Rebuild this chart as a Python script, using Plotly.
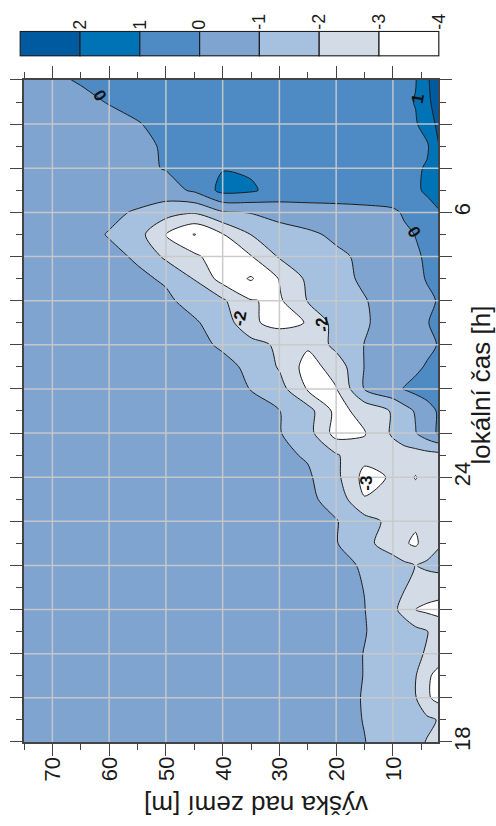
import plotly.graph_objects as go

# ---------------- data ----------------
HEIGHTS = [2, 4, 6, 8, 10, 15, 20, 25, 30, 35, 40, 45, 50, 55, 60, 65, 70, 75]
TIMES = [18.0, 18.5, 19.0, 19.5, 20.0, 20.5, 21.0, 21.5, 22.0, 22.5, 23.0, 23.5,
         24.0, 24.5, 25.0, 25.5, 26.0, 26.5, 27.0, 27.5, 28.0, 28.5, 29.0, 29.5,
         30.0, 30.5, 31.0, 31.5, 32.0, 32.5, 33.0]
# rows = times (18 h ... 9 h next day), columns = heights
Z = [
    [-2.4, -2.05, -1.75, -1.55, -1.4, -0.98, -0.7, -0.6, -0.55, -0.55, -0.55, -0.55, -0.55, -0.55, -0.55, -0.55, -0.55, -0.55],
    [-2.05, -1.8, -1.6, -1.5, -1.4, -1.03, -0.7, -0.6, -0.55, -0.55, -0.55, -0.55, -0.55, -0.55, -0.55, -0.55, -0.55, -0.55],
    [-3.3, -2.85, -1.95, -1.7, -1.5, -1.05, -0.7, -0.6, -0.55, -0.55, -0.55, -0.55, -0.55, -0.55, -0.55, -0.55, -0.55, -0.55],
    [-3.25, -2.85, -1.95, -1.7, -1.5, -1.02, -0.7, -0.6, -0.55, -0.55, -0.55, -0.55, -0.55, -0.55, -0.55, -0.55, -0.55, -0.55],
    [-2.6, -2.1, -1.8, -1.6, -1.45, -1.02, -0.7, -0.6, -0.55, -0.55, -0.55, -0.55, -0.55, -0.55, -0.55, -0.55, -0.55, -0.55],
    [-2.35, -1.95, -1.7, -1.5, -1.35, -0.97, -0.7, -0.6, -0.55, -0.55, -0.55, -0.55, -0.55, -0.55, -0.55, -0.55, -0.55, -0.55],
    [-3.3, -3.2, -3.05, -2.3, -1.8, -0.98, -0.7, -0.6, -0.55, -0.55, -0.55, -0.55, -0.55, -0.55, -0.55, -0.55, -0.55, -0.55],
    [-2.6, -2.5, -2.3, -1.95, -1.6, -1.02, -0.7, -0.6, -0.55, -0.55, -0.55, -0.55, -0.55, -0.55, -0.55, -0.55, -0.55, -0.55],
    [-1.7, -1.85, -2.02, -1.8, -1.5, -1.1, -0.75, -0.65, -0.6, -0.55, -0.55, -0.55, -0.55, -0.55, -0.55, -0.55, -0.55, -0.55],
    [-2.1, -2.5, -3.15, -2.9, -2.55, -1.7, -0.95, -0.7, -0.6, -0.55, -0.55, -0.55, -0.55, -0.55, -0.55, -0.55, -0.55, -0.55],
    [-2.6, -2.7, -2.85, -2.75, -2.3, -1.6, -0.95, -0.7, -0.6, -0.55, -0.55, -0.55, -0.55, -0.55, -0.55, -0.55, -0.55, -0.55],
    [-2.5, -2.5, -2.6, -2.6, -2.6, -2.95, -1.35, -0.8, -0.6, -0.55, -0.55, -0.55, -0.55, -0.55, -0.55, -0.55, -0.55, -0.55],
    [-2.5, -2.6, -3.05, -2.7, -2.9, -3.3, -1.75, -0.85, -0.65, -0.55, -0.55, -0.55, -0.55, -0.55, -0.55, -0.55, -0.55, -0.55],
    [-2.3, -2.35, -2.4, -2.45, -2.5, -2.7, -1.9, -1.1, -0.8, -0.65, -0.55, -0.55, -0.55, -0.55, -0.55, -0.55, -0.55, -0.55],
    [0.1, -0.45, -1.05, -1.4, -1.85, -3.05, -3.4, -1.6, -0.95, -0.75, -0.6, -0.55, -0.55, -0.55, -0.55, -0.55, -0.55, -0.55],
    [0.1, -0.4, -0.9, -1.4, -1.9, -2.7, -3.3, -1.6, -0.98, -0.75, -0.6, -0.55, -0.55, -0.55, -0.55, -0.55, -0.55, -0.55],
    [0.6, 0.45, 0.3, 0.05, -0.3, -0.95, -3.05, -3.1, -1.6, -1.02, -0.75, -0.6, -0.55, -0.55, -0.55, -0.55, -0.55, -0.55],
    [0.4, 0.1, -0.2, -0.4, -0.6, -0.97, -2.6, -3.4, -2.1, -1.15, -0.8, -0.65, -0.6, -0.55, -0.55, -0.55, -0.55, -0.55],
    [0.05, -0.25, -0.4, -0.5, -0.65, -0.98, -1.7, -2.85, -2.2, -1.6, -1.1, -0.8, -0.65, -0.6, -0.55, -0.55, -0.55, -0.55],
    [0.25, -0.05, -0.25, -0.4, -0.6, -1.1, -1.6, -2.95, -3.3, -2.85, -1.4, -0.9, -0.7, -0.6, -0.55, -0.55, -0.55, -0.55],
    [0.05, -0.15, -0.3, -0.45, -0.6, -1.05, -1.5, -1.95, -3.15, -2.95, -1.85, -1.3, -0.85, -0.7, -0.6, -0.55, -0.55, -0.55],
    [0.3, 0.05, -0.2, -0.35, -0.5, -0.85, -1.3, -1.8, -2.95, -4.1, -3.4, -2.05, -1.1, -0.85, -0.7, -0.6, -0.55, -0.55],
    [0.35, 0.1, -0.1, -0.3, -0.45, -0.8, -1.2, -1.6, -1.9, -3.05, -3.6, -2.8, -2.2, -1.1, -0.8, -0.65, -0.6, -0.55],
    [0.4, 0.2, 0.02, -0.15, -0.3, -0.55, -0.8, -1.2, -1.6, -1.98, -3.05, -4.05, -3.05, -1.6, -1.05, -0.7, -0.6, -0.55],
    [0.9, 0.6, 0.35, 0.1, -0.15, -0.25, -0.3, -0.35, -0.5, -0.95, -1.1, -1.9, -1.6, -1.1, -0.8, -0.6, -0.55, -0.55],
    [1.5, 1.15, 0.85, 0.7, 0.6, 0.5, 0.45, 0.45, 0.55, 1.15, 1.3, 0.15, -0.4, -0.5, -0.5, -0.5, -0.5, -0.55],
    [1.6, 1.1, 0.85, 0.7, 0.65, 0.6, 0.6, 0.6, 0.7, 0.85, 0.95, 0.5, 0.05, -0.2, -0.35, -0.4, -0.45, -0.5],
    [1.95, 0.85, 0.8, 0.7, 0.65, 0.6, 0.55, 0.5, 0.5, 0.45, 0.35, 0.25, 0.07, -0.15, -0.3, -0.35, -0.4, -0.45],
    [2.2, 1.5, 0.9, 0.75, 0.7, 0.6, 0.55, 0.5, 0.5, 0.45, 0.4, 0.3, 0.15, -0.03, -0.2, -0.3, -0.35, -0.4],
    [2.3, 1.85, 1.05, 0.8, 0.7, 0.6, 0.55, 0.5, 0.5, 0.45, 0.4, 0.35, 0.25, 0.15, 0.03, -0.15, -0.25, -0.3],
    [2.4, 1.9, 0.95, 0.8, 0.7, 0.6, 0.55, 0.5, 0.5, 0.45, 0.4, 0.35, 0.3, 0.25, 0.15, 0.05, -0.1, -0.2],
]

LEVEL_START, LEVEL_END, LEVEL_STEP = -4, 2, 1
# band colours from lowest (< -4) to highest (> 2)
BAND_COLORS = ['#ffffff', '#ffffff', '#d3dce6', '#a6c0e0', '#7ea4cf', '#4e8bc5', '#0072b6', '#005aa0']

CBAR_BOUNDS = [3, 2, 1, 0, -1, -2, -3, -4]
CBAR_COLORS = ['#005aa0', '#0072b6', '#4e8bc5', '#7ea4cf', '#a6c0e0', '#d3dce6', '#ffffff']
CBAR_TICKS = [2, 1, 0, -1, -2, -3, -4]
CBAR_TICK_TEXT = ['2', '1', '0', '-1', '-2', '-3', '-4']

HEIGHT_TICKS = [10, 20, 30, 40, 50, 60, 70]
HEIGHT_TICK_TEXT = ['10', '20', '30', '40', '50', '60', '70']
HEIGHT_MINOR = [5, 15, 25, 35, 45, 55, 65, 75]
TIME_TICKS = [18, 19, 20, 21, 22, 23, 24, 25, 26, 27, 28, 29, 30, 31, 32, 33]
TIME_TICK_TEXT = ['18', '', '', '', '', '', '24', '', '', '', '', '', '6', '', '', '']
TIME_MINOR = [t + 0.5 for t in TIME_TICKS[:-1]]

# contour labels: text, height, time, angle
LABELS = [('0', 61.7, 32.65, 60), ('1', 5.6, 32.58, -80), ('0', 6.4, 29.56, 60),
          ('-2', 37.0, 27.6, -80), ('-2', 22.3, 27.45, -100), ('-3', 14.6, 23.87, -90)]

FONT = 'Liberation Sans, Arial, sans-serif'
TXT = '#1a1a1a'
AX = '#444444'

# ---------------- figure ----------------
n_bands = len(BAND_COLORS)
colorscale = [[i / (n_bands - 1), c] for i, c in enumerate(BAND_COLORS)]

fig = go.Figure()
fig.add_trace(go.Contour(
    x=HEIGHTS, y=TIMES, z=Z,
    colorscale=colorscale, zmin=LEVEL_START - LEVEL_STEP / 2, zmax=LEVEL_END + LEVEL_STEP / 2,
    contours=dict(start=LEVEL_START, end=LEVEL_END, size=LEVEL_STEP, coloring='fill', showlines=True),
    line=dict(color='#1e1e1e', width=1, smoothing=0.8),
    showscale=False, hoverinfo='skip', xaxis='x', yaxis='y'))

centers = [(a + b) / 2 for a, b in zip(CBAR_BOUNDS[:-1], CBAR_BOUNDS[1:])]
widths = [abs(a - b) for a, b in zip(CBAR_BOUNDS[:-1], CBAR_BOUNDS[1:])]
fig.add_trace(go.Bar(
    x=centers, y=[1] * len(centers), width=widths,
    marker=dict(color=CBAR_COLORS, line=dict(color='#1e1e1e', width=1.2)),
    xaxis='x2', yaxis='y2', hoverinfo='skip', showlegend=False))

shapes = []
for h in HEIGHT_TICKS:
    shapes.append(dict(type='line', xref='x', yref='y domain', x0=h, x1=h, y0=0, y1=1,
                       line=dict(color='rgba(200,200,200,0.95)', width=1.5), layer='above'))
for t in TIME_TICKS[1:-1]:
    shapes.append(dict(type='line', xref='x domain', yref='y', x0=0, x1=1, y0=t, y1=t,
                       line=dict(color='rgba(200,200,200,0.95)', width=1.5), layer='above'))

annotations = []
for text, h, t, ang in LABELS:
    annotations.append(dict(text=text, x=h, y=t, xref='x', yref='y', showarrow=False,
                            textangle=ang, font=dict(family=FONT, size=17, color='#111', weight='bold')))
# height tick labels (rotated, as in the reference)
for v, s in zip(HEIGHT_TICKS, HEIGHT_TICK_TEXT):
    annotations.append(dict(text=s, x=v, y=-0.0369, xref='x', yref='paper', showarrow=False,
                            textangle=-90, xanchor='center', yanchor='middle',
                            font=dict(family=FONT, size=22, color=TXT)))
annotations.append(dict(text='výška nad zemí [m]', x=0.563, y=-0.086, xref='paper', yref='paper',
                        showarrow=False, textangle=180, xanchor='center', yanchor='middle',
                        font=dict(family=FONT, size=26, color=TXT)))
annotations.append(dict(text='lokální čas [h]', x=1.0974, y=0.487, xref='paper', yref='paper',
                        showarrow=False, textangle=-90, xanchor='center', yanchor='middle',
                        font=dict(family=FONT, size=26, color=TXT)))

fig.update_layout(
    width=496, height=826,
    margin=dict(l=19, r=56, t=10, b=84),
    paper_bgcolor='white', plot_bgcolor='white',
    showlegend=False,
    font=dict(family=FONT, color=TXT),
    shapes=shapes, annotations=annotations,
    xaxis=dict(domain=[0.0119, 0.996], range=[75, 2], anchor='y',
               tickmode='array', tickvals=HEIGHT_TICKS, showticklabels=False,
               ticks='outside', ticklen=12, tickwidth=1.2, tickcolor=AX,
               minor=dict(tickmode='array', tickvals=HEIGHT_MINOR, ticks='outside', ticklen=6,
                          tickwidth=1.2, tickcolor=AX, showgrid=False),
               showline=True, linecolor=AX, linewidth=1.5, mirror='ticks',
               showgrid=False, zeroline=False),
    yaxis=dict(domain=[0, 0.9044], range=[18, 33], anchor='x', side='right',
               tickmode='array', tickvals=TIME_TICKS, ticktext=TIME_TICK_TEXT,
               tickangle=-90, ticks='outside', ticklen=12, tickwidth=1.2, tickcolor=AX,
               ticklabelstandoff=-8,
               minor=dict(tickmode='array', tickvals=TIME_MINOR, ticks='outside', ticklen=6,
                          tickwidth=1.2, tickcolor=AX, showgrid=False),
               showline=True, linecolor=AX, linewidth=1.5, mirror='ticks',
               showgrid=False, zeroline=False, tickfont=dict(size=22, color=TXT, family=FONT)),
    xaxis2=dict(domain=[0, 1], range=[3.02, -4.02], anchor='y2', side='top',
                tickmode='array', tickvals=CBAR_TICKS, ticktext=CBAR_TICK_TEXT,
                tickangle=-90, ticks='', showline=False, showgrid=False, zeroline=False,
                tickfont=dict(size=18, color=TXT, family=FONT)),
    yaxis2=dict(domain=[0.9362, 0.9717], range=[-0.03, 1.03], anchor='x2', visible=False),
)

fig.write_html('out.html')
